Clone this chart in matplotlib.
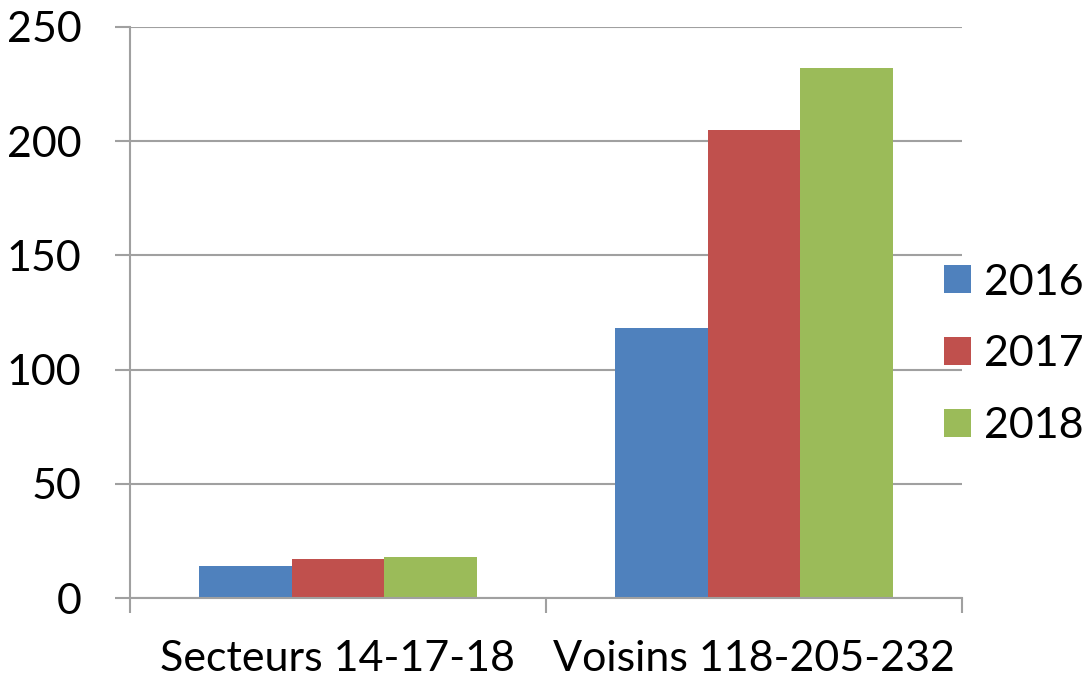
import matplotlib
matplotlib.use("Agg")
import matplotlib.pyplot as plt
import numpy as np

categories = ["Secteurs 14-17-18", "Voisins 118-205-232"]
series_names = ["2016", "2017", "2018"]
values_2016 = [14, 118]
values_2017 = [17, 205]
values_2018 = [18, 232]
y_ticks = [0, 50, 100, 150, 200, 250]

colors = ["#4F81BD", "#C0504D", "#9BBB59"]
grid_col = "#A0A0A0"

plt.rcParams['font.family'] = ['Lato', 'DejaVu Sans']
fs = 31

fig = plt.figure(figsize=(10.89, 6.78), dpi=100)
ax = fig.add_axes([130/1089, 1-598/678, (962-130)/1089, (598-27)/678])

centers = np.arange(len(categories)) + 0.5
w = 0.222
for i, (name, vals) in enumerate(zip(series_names, [values_2016, values_2017, values_2018])):
    ax.bar(centers + (i - 1) * w, vals, width=w, color=colors[i], label=name, zorder=3)

ax.set_xlim(0, len(categories))
ax.set_ylim(0, 250)
ax.set_yticks(y_ticks)
ax.set_yticklabels([str(t) for t in y_ticks], fontsize=fs)
ax.yaxis.grid(True, color=grid_col, linewidth=1.5, zorder=0)
ax.tick_params(axis='y', direction='out', length=11, width=1.5, color=grid_col, pad=24)

ax.set_xticks(np.arange(len(categories) + 1))
ax.set_xticklabels([])
ax.tick_params(axis='x', which='major', direction='out', length=11, width=1.5, color=grid_col)
ax.set_xticks(centers, minor=True)
ax.set_xticklabels(categories, minor=True, fontsize=fs)
ax.tick_params(axis='x', which='minor', length=0, pad=30)

for s in ['top', 'right']:
    ax.spines[s].set_visible(False)
for s in ['left', 'bottom']:
    ax.spines[s].set_color(grid_col)
    ax.spines[s].set_linewidth(1.5)
    ax.spines[s].set_zorder(4)

leg = ax.legend(loc='center left', bbox_to_anchor=(0.958, 0.427), frameon=False,
                fontsize=fs, handlelength=0.62, handleheight=0.62,
                handletextpad=0.3, labelspacing=0.78, borderaxespad=0)

fig.savefig("out.png", dpi=100)
